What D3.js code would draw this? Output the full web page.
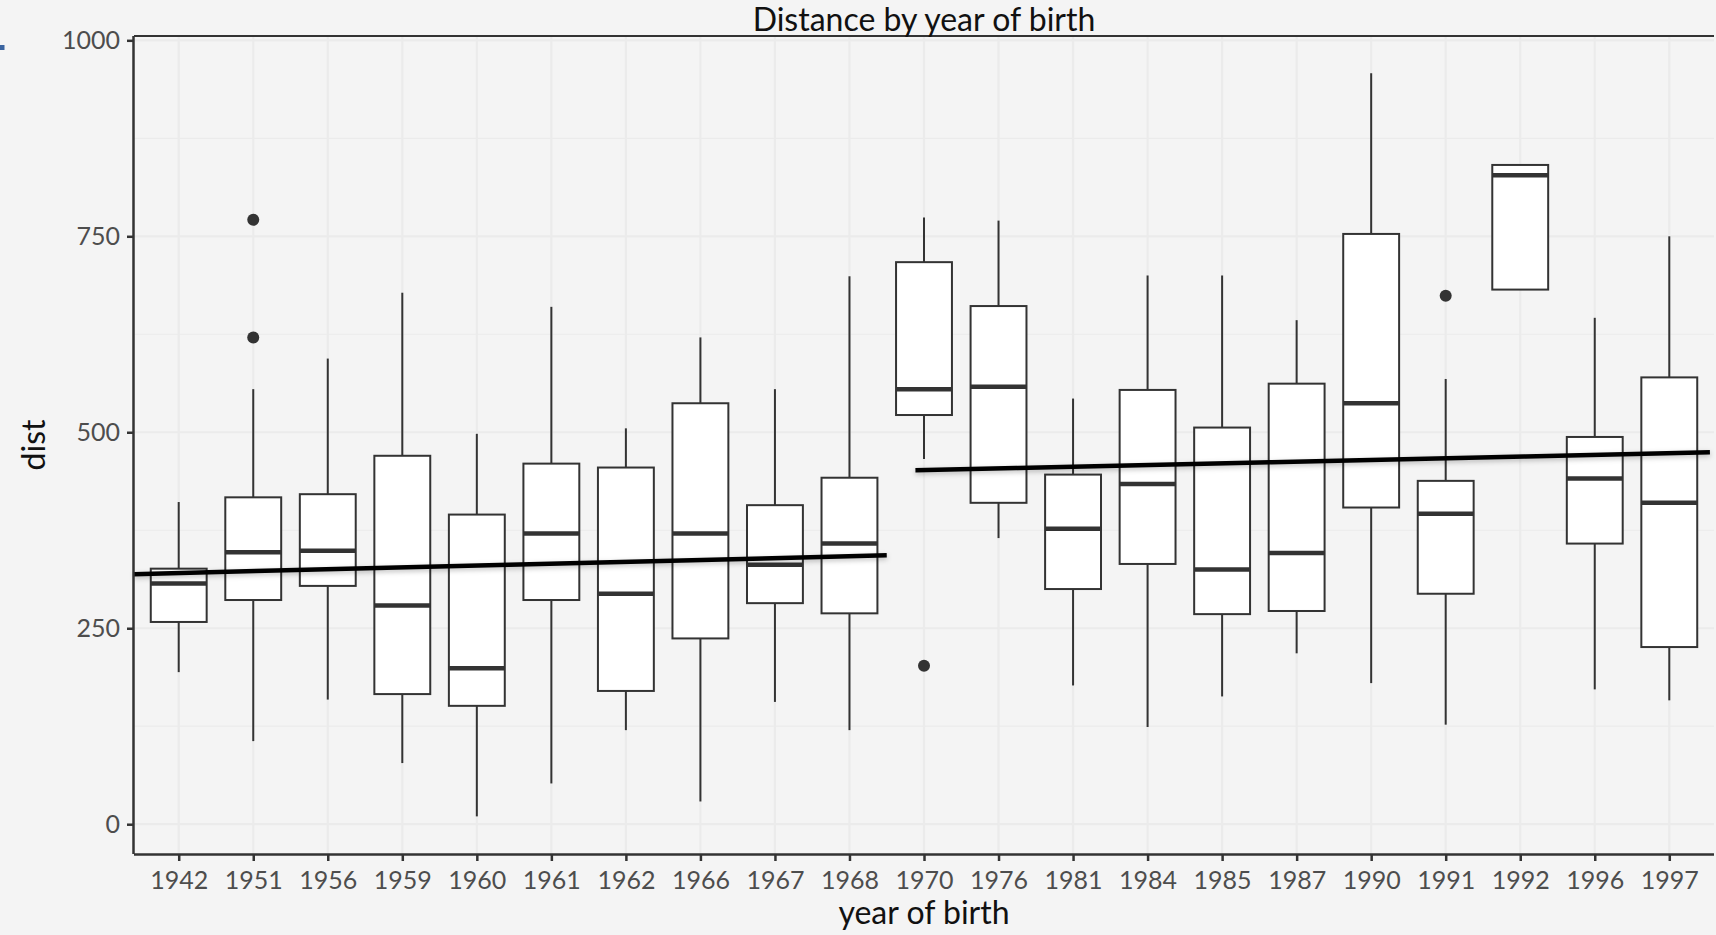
<!DOCTYPE html>
<html>
<head>
<meta charset="UTF-8"/>
<title>Distance by year of birth</title>
<script src="https://d3js.org/d3.v7.min.js"></script>
<style>
body {
  margin: 0;
  background-color: #f4f4f4;
  font-family: 'Lato', sans-serif;
}
svg {
  display: block;
}
.grid line {
  stroke: #ebebeb;
}
.tick text {
  font-size: 25px;
  fill: #4d4d4d;
}
.axis path, .axis line {
  stroke: #333333;
}
text.title, text.label {
  font-size: 32px;
  fill: #111;
}
</style>
</head>
<body>
<svg></svg>
<script>
// years on the x axis
const years = ['1942','1951','1956','1959','1960','1961','1962','1966','1967','1968','1970',
  '1976','1981','1984','1985','1987','1990','1991','1992','1996','1997'];

// box statistics per year
const whiskerLow  = [194,106,159, 78, 10, 52,120, 29,156,120,466,365,177,124,163,218,180,127,682,172,158];
const q1          = [258,286,304,166,151,286,170,237,282,269,522,410,300,332,268,272,404,294,682,358,226];
const median      = [307,347,349,279,199,371,294,371,331,358,555,558,377,434,325,346,537,396,828,441,410];
const q3          = [326,417,421,470,395,460,455,537,407,442,717,661,446,554,506,562,753,438,841,494,570];
const whiskerHigh = [411,555,594,678,498,660,505,621,555,699,774,770,543,700,700,643,958,568,841,646,750];

// outliers
const outlierYears  = ['1951','1951','1970','1991'];
const outlierValues = [771, 621, 202, 674];

// fitted trend segments (x in category index units)
const trendX0 = [-0.6, 9.885];
const trendX1 = [9.5, 20.545];
const trendY0 = [319, 451.5];
const trendY1 = [343, 474.5];

const yTicks = [0, 250, 500, 750, 1000];
const yMinor = [125, 375, 625, 875];

const W = 1716, H = 935;
const pLeft = 134, pRight = 1714, pTop = 36, pBottom = 854;

const svg = d3.select('svg').attr('width', W).attr('height', H);

const x = d3.scalePoint()
  .domain(years)
  .range([pLeft, pRight])
  .padding(0.6);

const xi = d3.scaleLinear()
  .domain([0, years.length - 1])
  .range([x(years[0]), x(years[years.length - 1])]);

const y = d3.scaleLinear()
  .domain([-38, 1005.5])
  .range([pBottom, pTop]);

const boxW = x.step() * 0.75;

// panel background
svg.append('rect')
  .attr('x', pLeft).attr('y', pTop)
  .attr('width', pRight - pLeft).attr('height', pBottom - pTop)
  .attr('fill', '#f4f4f4');

// grid
const grid = svg.append('g').attr('class', 'grid');
grid.selectAll('.minor')
  .data(yMinor)
  .enter().append('line')
  .attr('x1', pLeft).attr('x2', pRight)
  .attr('y1', d => y(d)).attr('y2', d => y(d))
  .attr('stroke-width', 1.2);
grid.selectAll('.major')
  .data(yTicks)
  .enter().append('line')
  .attr('x1', pLeft).attr('x2', pRight)
  .attr('y1', d => y(d)).attr('y2', d => y(d))
  .attr('stroke-width', 2.2);
grid.selectAll('.vert')
  .data(years)
  .enter().append('line')
  .attr('x1', d => x(d)).attr('x2', d => x(d))
  .attr('y1', pTop).attr('y2', pBottom)
  .attr('stroke-width', 2.2);

// boxes
const boxes = svg.append('g')
  .selectAll('g')
  .data(years)
  .enter().append('g');

boxes.append('line')
  .attr('x1', d => x(d)).attr('x2', d => x(d))
  .attr('y1', (d, i) => y(q3[i])).attr('y2', (d, i) => y(whiskerHigh[i]))
  .attr('stroke', '#333').attr('stroke-width', 2);
boxes.append('line')
  .attr('x1', d => x(d)).attr('x2', d => x(d))
  .attr('y1', (d, i) => y(q1[i])).attr('y2', (d, i) => y(whiskerLow[i]))
  .attr('stroke', '#333').attr('stroke-width', 2);
boxes.append('rect')
  .attr('x', d => x(d) - boxW / 2)
  .attr('y', (d, i) => y(q3[i]))
  .attr('width', boxW)
  .attr('height', (d, i) => y(q1[i]) - y(q3[i]))
  .attr('fill', '#fff')
  .attr('stroke', '#333').attr('stroke-width', 2);
boxes.append('line')
  .attr('x1', d => x(d) - boxW / 2).attr('x2', d => x(d) + boxW / 2)
  .attr('y1', (d, i) => y(median[i])).attr('y2', (d, i) => y(median[i]))
  .attr('stroke', '#333').attr('stroke-width', 4.5);

svg.append('g')
  .selectAll('circle')
  .data(outlierValues)
  .enter().append('circle')
  .attr('cx', (d, i) => x(outlierYears[i]))
  .attr('cy', d => y(d))
  .attr('r', 6)
  .attr('fill', '#333');

// trend lines
const defs = svg.append('defs');
defs.append('filter').attr('id', 'shadow')
  .attr('x', '-5%').attr('y', '-200%').attr('width', '110%').attr('height', '500%')
  .append('feDropShadow')
  .attr('dx', 0).attr('dy', 2).attr('stdDeviation', 2.5)
  .attr('flood-color', '#000').attr('flood-opacity', 0.25);

svg.append('g')
  .selectAll('line')
  .data(trendX0)
  .enter().append('line')
  .attr('x1', d => xi(d))
  .attr('x2', (d, i) => xi(trendX1[i]))
  .attr('y1', (d, i) => y(trendY0[i]))
  .attr('y2', (d, i) => y(trendY1[i]))
  .attr('stroke', '#000')
  .attr('stroke-width', 4.5)
  .attr('filter', 'url(#shadow)');

// axes
svg.append('g')
  .attr('class', 'axis')
  .attr('transform', `translate(0, ${pBottom})`)
  .call(d3.axisBottom(x).tickSize(7).tickPadding(10))
  .call(g => g.select('.domain').attr('d', `M${pLeft},0.5H${pRight}`).attr('stroke-width', 2.5))
  .call(g => g.selectAll('.tick line').attr('stroke-width', 2.5));

svg.append('g')
  .attr('class', 'axis')
  .attr('transform', `translate(${pLeft}, 0)`)
  .call(d3.axisLeft(y).tickValues(yTicks).tickFormat(d3.format('d')).tickSize(7).tickPadding(7))
  .call(g => g.select('.domain').attr('d', `M-0.5,${pTop}V${pBottom}`).attr('stroke-width', 2.5))
  .call(g => g.selectAll('.tick line').attr('stroke-width', 2.5));

svg.selectAll('.tick text').attr('font-family', 'Lato, sans-serif');

// top border
svg.append('line')
  .attr('x1', pLeft).attr('x2', pRight)
  .attr('y1', pTop).attr('y2', pTop)
  .attr('stroke', '#333').attr('stroke-width', 2);

// titles
svg.append('text')
  .attr('class', 'title')
  .attr('x', (pLeft + pRight) / 2)
  .attr('y', 31)
  .attr('text-anchor', 'middle')
  .text('Distance by year of birth');

svg.append('text')
  .attr('class', 'label')
  .attr('x', (pLeft + pRight) / 2)
  .attr('y', 924)
  .attr('text-anchor', 'middle')
  .text('year of birth');

svg.append('text')
  .attr('class', 'label')
  .attr('transform', `translate(45, ${(pTop + pBottom) / 2}) rotate(-90)`)
  .attr('text-anchor', 'middle')
  .text('dist');

// small blue mark at the top-left edge
svg.append('rect')
  .attr('x', 0).attr('y', 45)
  .attr('width', 4.5).attr('height', 5)
  .attr('fill', '#3a64a0');
</script>
</body>
</html>
